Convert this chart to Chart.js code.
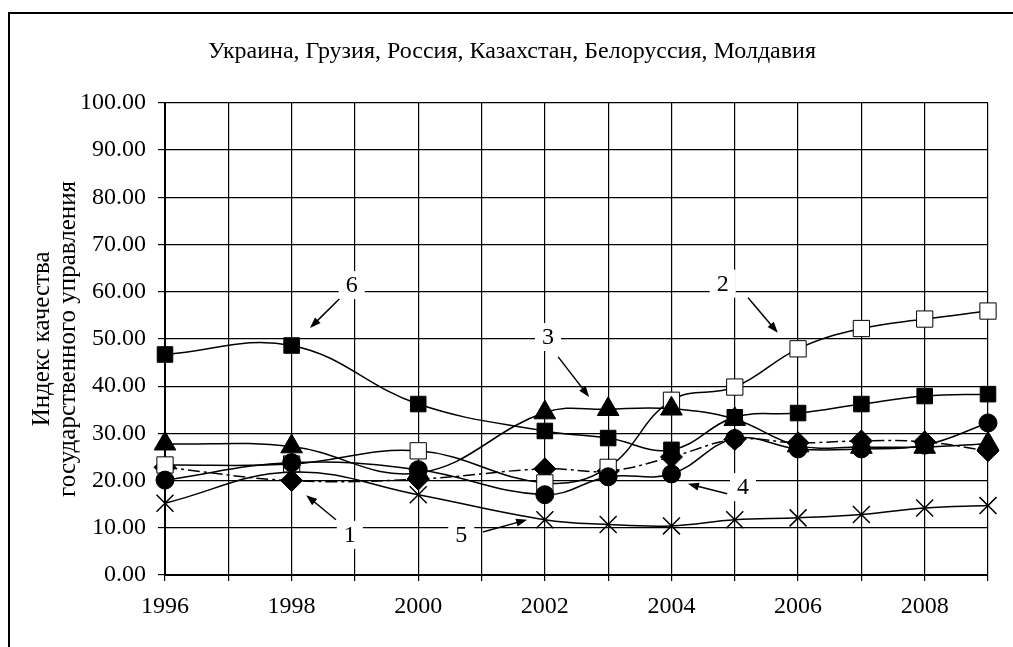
<!doctype html>
<html lang="ru">
<head>
<meta charset="utf-8">
<title>Индекс качества государственного управления</title>
<script src="https://cdn.jsdelivr.net/npm/chart.js@4.4.0/dist/chart.umd.min.js"></script>
<style>
  body { margin: 0; background: #fff; }
  #wrap { position: relative; width: 1013px; height: 647px; overflow: hidden; }
  #frame { position: absolute; left: 8px; top: 12px; width: 1100px; height: 700px; border-left: 2px solid #000; border-top: 2px solid #000; }
  canvas { position: absolute; left: 0; top: 0; }
</style>
</head>
<body>
<div id="wrap">
  <div id="frame"></div>
  <canvas id="chart" width="1013" height="647"></canvas>
</div>
<script>
// годы наблюдений (1997, 1999, 2001 - нет данных)
var years = [1996, 1998, 2000, 2002, 2003, 2004, 2005, 2006, 2007, 2008, 2009];
var xTickLabels = [1996, 1998, 2000, 2002, 2004, 2006, 2008];

// 1..6 - как в заголовке
var ukraine    = [22.8, 20.0, 20.3, 22.5, 22.0, 25.0, 28.7, 28.0, 28.4, 28.2, 26.3];
var georgia    = [23.3, 23.5, 26.3, 19.5, 22.8, 37.0, 39.8, 47.9, 52.2, 54.2, 55.9];
var russia     = [27.8, 27.2, 21.6, 34.4, 35.1, 35.2, 33.0, 27.4, 27.1, 27.1, 27.8];
var kazakhstan = [20.1, 23.8, 22.3, 17.0, 20.8, 21.4, 28.9, 26.7, 26.7, 27.5, 32.2];
var belarus    = [15.2, 21.8, 17.0, 11.7, 10.7, 10.4, 11.7, 12.1, 12.8, 14.2, 14.7];
var moldova    = [46.7, 48.6, 36.2, 30.5, 29.0, 26.5, 33.4, 34.3, 36.2, 37.9, 38.3];

var serif = 'Liberation Serif, Times New Roman, serif';

function series(values) {
    return years.map(function (y, i) {
        return { x: y, y: values[i] };
    });
}

function line(label, values, style, radius, fill, order, extra) {
    var ds = {
        label: label,
        data: series(values),
        borderColor: '#000',
        borderWidth: 1.5,
        tension: 0.4,
        fill: false,
        clip: false,
        pointStyle: style,
        pointRadius: radius,
        pointHoverRadius: radius,
        pointBackgroundColor: fill,
        pointBorderColor: '#000',
        pointBorderWidth: 1,
        order: order
    };
    for (var k in extra) ds[k] = extra[k];
    return ds;
}

// подписи-стрелки 1..6 (в координатах графика)
var notes = [
    { text: '6', at: [1998.95, 61.4], from: [1998.80, 59.1], to: [1998.29, 52.3] },
    { text: '3', at: [2002.05, 50.4], from: [2002.21, 46.2], to: [2002.70, 37.7] },
    { text: '2', at: [2004.81, 61.7], from: [2005.21, 58.7], to: [2005.68, 51.3] },
    { text: '4', at: [2005.13, 18.6], from: [2004.88, 17.2], to: [2004.26, 19.3] },
    { text: '1', at: [1998.92, 8.5], from: [1998.70, 11.7], to: [1998.23, 16.9] },
    { text: '5', at: [2000.68, 8.5], from: [2001.02, 9.1], to: [2001.72, 11.7] }
];

var arrows = {
    id: 'arrows',
    afterDatasetsDraw: function (chart) {
        var ctx = chart.ctx, sx = chart.scales.x, sy = chart.scales.y;
        ctx.save();
        ctx.strokeStyle = '#000';
        ctx.fillStyle = '#000';
        ctx.lineWidth = 1.5;
        ctx.font = '24px ' + serif;
        notes.forEach(function (n) {
            var x1 = sx.getPixelForValue(n.from[0]), y1 = sy.getPixelForValue(n.from[1]);
            var x2 = sx.getPixelForValue(n.to[0]), y2 = sy.getPixelForValue(n.to[1]);
            var a = Math.atan2(y2 - y1, x2 - x1);
            ctx.beginPath();
            ctx.moveTo(x1, y1);
            ctx.lineTo(x2 - 8 * Math.cos(a), y2 - 8 * Math.sin(a));
            ctx.stroke();
            ctx.beginPath();
            ctx.moveTo(x2, y2);
            ctx.lineTo(x2 - 11 * Math.cos(a) + 4 * Math.sin(a), y2 - 11 * Math.sin(a) - 4 * Math.cos(a));
            ctx.lineTo(x2 - 11 * Math.cos(a) - 4 * Math.sin(a), y2 - 11 * Math.sin(a) + 4 * Math.cos(a));
            ctx.closePath();
            ctx.fill();

            var tx = sx.getPixelForValue(n.at[0]), ty = sy.getPixelForValue(n.at[1]);
            var w = ctx.measureText(n.text).width + 14;
            ctx.fillStyle = '#fff';
            ctx.fillRect(tx - w / 2, ty - 14, w, 28);
            ctx.fillStyle = '#000';
            ctx.textAlign = 'center';
            ctx.textBaseline = 'middle';
            ctx.fillText(n.text, tx, ty + 1);
        });
        ctx.restore();
    }
};

new Chart(document.getElementById('chart').getContext('2d'), {
    type: 'line',
    data: {
        datasets: [
            line('Украина', ukraine, 'rectRot', 11, '#000', 6, { borderDash: [12, 4, 3, 4] }),
            line('Грузия', georgia, 'rect', 11.5, '#fff', 5),
            line('Россия', russia, 'triangle', 12.5, '#000', 4),
            line('Казахстан', kazakhstan, 'circle', 9, '#000', 3),
            line('Белоруссия', belarus, 'crossRot', 12, '#000', 2, { pointBorderWidth: 1.5 }),
            line('Молдавия', moldova, 'rect', 11, '#000', 1)
        ]
    },
    options: {
        responsive: false,
        animation: false,
        layout: { padding: { top: 0, right: 25, bottom: 0, left: 36 } },
        plugins: {
            legend: { display: false },
            tooltip: { enabled: false },
            title: {
                display: true,
                text: 'Украина, Грузия, Россия, Казахстан, Белоруссия, Молдавия',
                color: '#000',
                font: { family: serif, size: 24, weight: 'normal', lineHeight: 1.2 },
                padding: { top: 37, bottom: 37 }
            }
        },
        scales: {
            x: {
                type: 'linear',
                min: 1996,
                max: 2009,
                afterFit: function (scale) { scale.height = 72; },
                ticks: {
                    stepSize: 1,
                    autoSkip: false,
                    maxRotation: 0,
                    padding: 11,
                    color: '#000',
                    font: { family: serif, size: 24 },
                    callback: function (v) {
                        return xTickLabels.indexOf(v) >= 0 ? String(v) : '';
                    }
                },
                grid: { color: '#000', lineWidth: 1.2, tickLength: 6 },
                border: { color: '#000', width: 2 }
            },
            y: {
                min: 0,
                max: 100,
                afterFit: function (scale) { scale.width = 129; },
                ticks: {
                    stepSize: 10,
                    padding: 12,
                    color: '#000',
                    font: { family: serif, size: 24 },
                    callback: function (v) { return v.toFixed(2); }
                },
                grid: { color: '#000', lineWidth: 1.2, tickLength: 7 },
                border: { color: '#000', width: 2 },
                title: {
                    display: true,
                    text: ['Индекс качества', 'государственного управления'],
                    color: '#000',
                    font: { family: serif, size: 25, lineHeight: 1.05 },
                    padding: { top: -7, bottom: 0 }
                }
            }
        }
    },
    plugins: [arrows]
});
</script>
</body>
</html>
